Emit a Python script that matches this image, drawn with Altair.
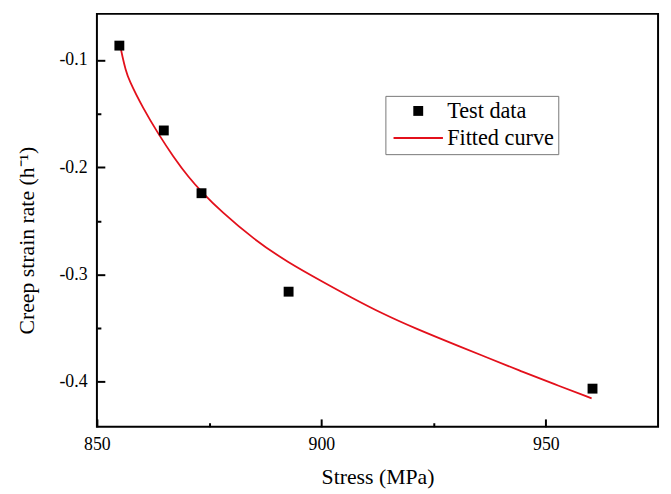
import altair as alt
import pandas as pd

# Test data
test_x = [855.0, 864.9, 873.3, 892.7, 960.4]
test_y = [-0.0866, -0.1657, -0.2242, -0.316, -0.4064]

# Fitted curve
fit_x = [855.07, 855.73, 856.39, 857.05, 860.35, 863.66, 866.96, 870.48, 873.35,
         877.6, 884.96, 892.29, 901.1, 906.23, 913.59, 920.93, 931.21, 937.07,
         944.43, 951.76, 960.2]
fit_y = [-0.0841, -0.0979, -0.1089, -0.1181, -0.1457, -0.1687, -0.1899, -0.2097,
         -0.2230, -0.2410, -0.2672, -0.2881, -0.3086, -0.3204, -0.3365, -0.3503,
         -0.3678, -0.3776, -0.3901, -0.4020, -0.4154]

series = ["Test data", "Fitted curve"]

# Axis ticks: labelled (major) and unlabelled (minor) positions
x_major = [850, 900, 950]
x_minor = [875, 925]
y_major = [-0.4, -0.3, -0.2, -0.1]
y_minor = [-0.35, -0.25, -0.15]

FONT = "Liberation Serif"
RED = "#e3101b"

df_test = pd.DataFrame({"x": test_x, "y": test_y, "series": series[0]})
df_fit = pd.DataFrame({"x": fit_x, "y": fit_y, "series": series[1]})

xscale = alt.Scale(domain=[850, 975], nice=False, zero=False)
yscale = alt.Scale(domain=[-0.442, -0.057], nice=False, zero=False)

x_minor_test = "indexof(" + str(x_minor) + ", datum.value) >= 0"
y_minor_test = "abs(round(datum.value * 100)) % 10 != 0"

xaxis = alt.Axis(
    values=sorted(x_major + x_minor), title="Stress (MPa)",
    offset=-8, ticks=True, tickSize=8, tickWidth=2, tickColor="black",
    tickDash={"condition": {"test": x_minor_test, "value": [0, 4, 4]}, "value": [8, 0]},
    domain=False, grid=False, labelFont=FONT, labelFontSize=18,
    labelColor="black", labelBaseline="alphabetic", labelPadding=23,
    labelFlush=False, labelExpr=x_minor_test + " ? '' : format(datum.value, 'd')",
    titleFont=FONT, titleFontSize=22, titleFontWeight="normal",
    titleColor="black", titleBaseline="alphabetic", titleY=65)
yaxis = alt.Axis(
    values=sorted(y_major + y_minor), title="Creep strain rate (h\u207b\u00b9)",
    offset=-8, ticks=True, tickSize=8, tickWidth=2, tickColor="black",
    tickDash={"condition": {"test": y_minor_test, "value": [0, 4, 4]}, "value": [8, 0]},
    domain=False, grid=False, labelFont=FONT, labelFontSize=18,
    labelColor="black", labelPadding=10, labelFlush=False,
    labelExpr=y_minor_test + " ? '' : '-' + format(-datum.value, '.1f')",
    titleFont=FONT, titleFontSize=22, titleFontWeight="normal",
    titleColor="black", titleBaseline="alphabetic", titleX=-72, titleY=229)

legend = alt.Legend(title=None, orient="none", legendX=292, legendY=83, padding=4,
                    strokeColor="#777777", fillColor="white", cornerRadius=0,
                    labelFont=FONT, labelFontSize=22.5, labelColor="black",
                    symbolSize=100, symbolStrokeWidth=2, symbolOffset=18,
                    labelOffset=18, rowPadding=4.5)

square = "M-1,-1H1V1H-1Z"
stroke_line = "M-5,0H5"

points = alt.Chart(df_test).mark_point(filled=True, size=100, opacity=1).encode(
    x=alt.X("x:Q", scale=xscale, axis=xaxis),
    y=alt.Y("y:Q", scale=yscale, axis=yaxis),
    fill=alt.Fill("series:N", scale=alt.Scale(domain=series, range=["black", "transparent"]), legend=legend),
    shape=alt.Shape("series:N", scale=alt.Scale(domain=series, range=[square, stroke_line]), legend=legend),
)

line = alt.Chart(df_fit).mark_line(strokeWidth=1.8, interpolate="basis").encode(
    x=alt.X("x:Q", scale=xscale),
    y=alt.Y("y:Q", scale=yscale),
    stroke=alt.Stroke("series:N", scale=alt.Scale(domain=series, range=["transparent", RED]), legend=legend),
)

chart = alt.layer(line, points).properties(
    width=568, height=418,
    autosize=alt.AutoSizeParams(type="none"),
    padding={"left": 90, "top": 3, "right": 5, "bottom": 61},
    background="white",
).configure_view(stroke="black", strokeWidth=2)

chart.save("out.html", embed_options={"renderer": "svg", "actions": False})
